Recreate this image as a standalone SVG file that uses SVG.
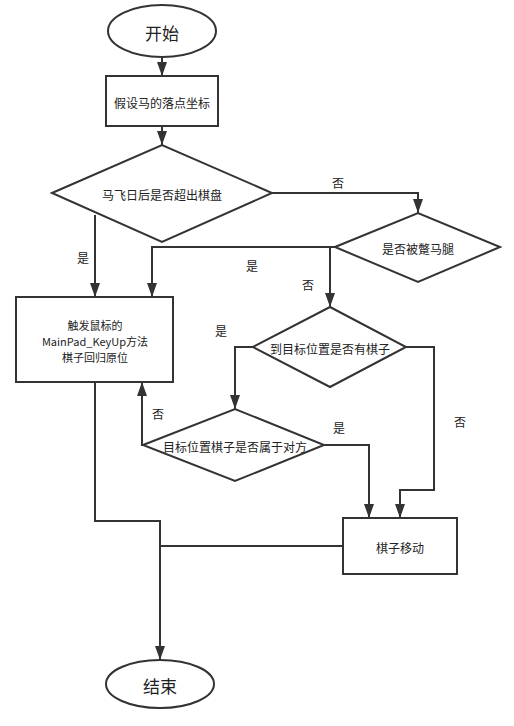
<svg xmlns="http://www.w3.org/2000/svg" width="514" height="726" viewBox="0 0 514 726">
<style>
.s{fill:#fff;stroke:#333;stroke-width:2}
.c{fill:none;stroke:#333;stroke-width:2}
.t{font-family:"Noto Sans CJK SC","Liberation Sans",sans-serif;font-size:12px;fill:#222;text-anchor:middle;dominant-baseline:central}
.b{font-size:17px}
.m{font-size:11px}
</style>
<defs>
<marker id="a" viewBox="0 0 14 10" refX="14" refY="5" markerWidth="14" markerHeight="10" markerUnits="userSpaceOnUse" orient="auto">
<path d="M0,0 L14,5 L0,10 Z" fill="#333"/>
</marker>
</defs>
<g id="connectors">
<path class="c" d="M162,57 V76" marker-end="url(#a)"/>
<path class="c" d="M162,126 V145" marker-end="url(#a)"/>
<path class="c" d="M272,193 H418 V213" marker-end="url(#a)"/>
<text class="t" x="338" y="182">否</text>
<path class="c" d="M95,215 V297" marker-end="url(#a)"/>
<text class="t" x="83" y="257">是</text>
<path class="c" d="M335,247 H152 V297" marker-end="url(#a)"/>
<text class="t" x="252" y="265">是</text>
<path class="c" d="M330,247 V307" marker-end="url(#a)"/>
<text class="t" x="308" y="284">否</text>
<path class="c" d="M253,347 H235 V409" marker-end="url(#a)"/>
<text class="t" x="221" y="330">是</text>
<path class="c" d="M406,347 H434 V490 H400 V518" marker-end="url(#a)"/>
<text class="t" x="460" y="421">否</text>
<path class="c" d="M143,445 H142 V382" marker-end="url(#a)"/>
<text class="t" x="158" y="413">否</text>
<path class="c" d="M324,445 H369 V518" marker-end="url(#a)"/>
<text class="t" x="339" y="427">是</text>
<path class="c" d="M95,382 V521 H160 V660" marker-end="url(#a)"/>
<path class="c" d="M343,546 H160"/>
</g>
<g id="start">
<ellipse class="s" cx="162" cy="31" rx="54" ry="26"/>
<text class="t b" x="162" y="32">开始</text>
</g>
<g id="assume">
<rect class="s" x="106" y="76" width="112" height="50"/>
<text class="t" x="162" y="102">假设马的落点坐标</text>
</g>
<g id="d1">
<path class="s" d="M52,193 L162,145 L272,193 L162,242 Z"/>
<text class="t" x="162" y="194">马飞日后是否超出棋盘</text>
</g>
<g id="d2">
<path class="s" d="M335,247 L418,213 L500,247 L418,282 Z"/>
<text class="t" x="418" y="248">是否被蹩马腿</text>
</g>
<g id="reset">
<rect class="s" x="16" y="297" width="157" height="85"/>
<text class="t m" x="95" y="325">触发鼠标的</text>
<text class="t m" x="95" y="341">MainPad_KeyUp方法</text>
<text class="t m" x="95" y="357">棋子回归原位</text>
</g>
<g id="d3">
<path class="s" d="M253,347 L330,307 L406,347 L330,387 Z"/>
<text class="t" x="330" y="348">到目标位置是否有棋子</text>
</g>
<g id="d4">
<path class="s" d="M143,445 L235,409 L324,445 L235,481 Z"/>
<text class="t" x="235" y="446">目标位置棋子是否属于对方</text>
</g>
<g id="move">
<rect class="s" x="343" y="518" width="114" height="56"/>
<text class="t" x="400" y="547">棋子移动</text>
</g>
<g id="end">
<ellipse class="s" cx="160" cy="684" rx="54" ry="24"/>
<text class="t b" x="160" y="685">结束</text>
</g>
</svg>
